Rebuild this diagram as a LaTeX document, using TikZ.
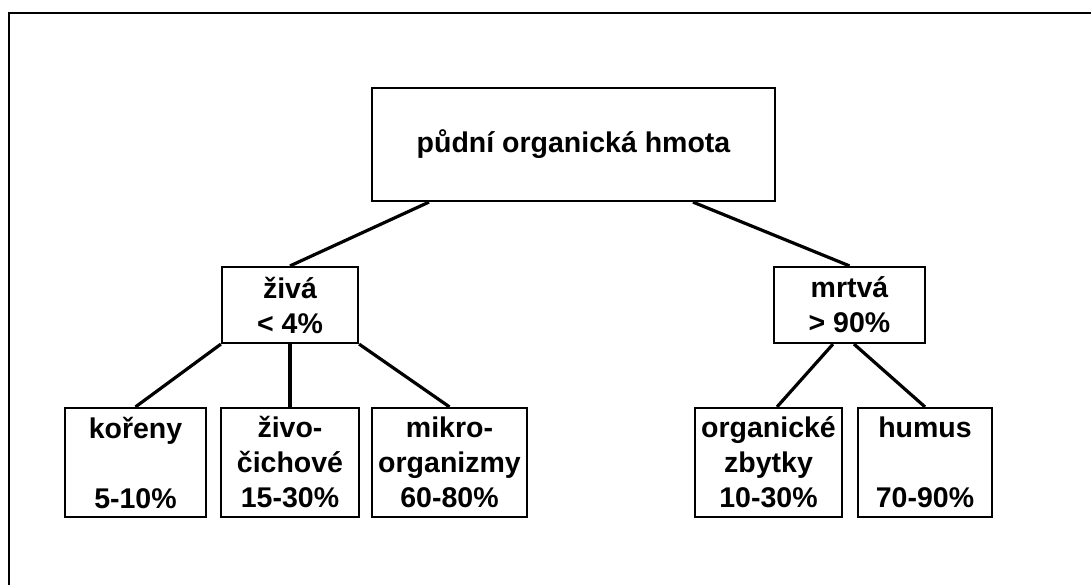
\documentclass[tikz,border=0pt]{standalone}
\usepackage{fontspec}
\setmainfont{Liberation Sans}
\tikzset{every picture/.style={x=1pt,y=-1pt},
  box/.style={draw,line width=2.2pt,inner sep=0pt,align=center,
    font=\bfseries\fontsize{28.5}{35}\selectfont},
  link/.style={line width=3.2pt}}

\begin{document}
\begin{tikzpicture}
\useasboundingbox (0,0) rectangle (1091,585);
\draw[line width=2.4pt] (9,585) |- (1091,13);
\node[box,minimum width=403pt,minimum height=113pt] (hmota) at (573.5,144.5) {půdní organická hmota};
\node[box,minimum width=136pt,minimum height=76pt] (ziva) at (290,305) {živá\\< 4\%};
\node[box,minimum width=151pt,minimum height=76pt] (mrtva) at (849.5,305) {mrtvá\\> 90\%};
\node[box,minimum width=141pt,minimum height=109pt] (koreny) at (135.5,462.5) {kořeny\\\mbox{}\\5-10\%};
\node[box,minimum width=138pt,minimum height=109pt] (zivoc) at (290,462.5) {živo-\\čichové\\15-30\%};
\node[box,minimum width=155pt,minimum height=109pt] (mikro) at (449.5,462.5) {mikro-\\organizmy\\60-80\%};
\node[box,minimum width=147pt,minimum height=109pt] (zbytky) at (768.5,462.5) {organické\\zbytky\\10-30\%};
\node[box,minimum width=134pt,minimum height=109pt] (humus) at (925,462.5) {humus\\\mbox{}\\70-90\%};
% vetve
\draw[link] ([xshift=-144.5pt]hmota.south) -- (ziva.north);
\draw[link] ([xshift=119.5pt]hmota.south) -- (mrtva.north);
\draw[link] (ziva.south west) -- (koreny.north);
\draw[link] (ziva.south) -- (zivoc.north);
\draw[link] (ziva.south east) -- (mikro.north);
\draw[link] ([xshift=-16.5pt]mrtva.south) -- ([xshift=8.5pt]zbytky.north);
\draw[link] ([xshift=4.5pt]mrtva.south) -- (humus.north);
\end{tikzpicture}
\end{document}
